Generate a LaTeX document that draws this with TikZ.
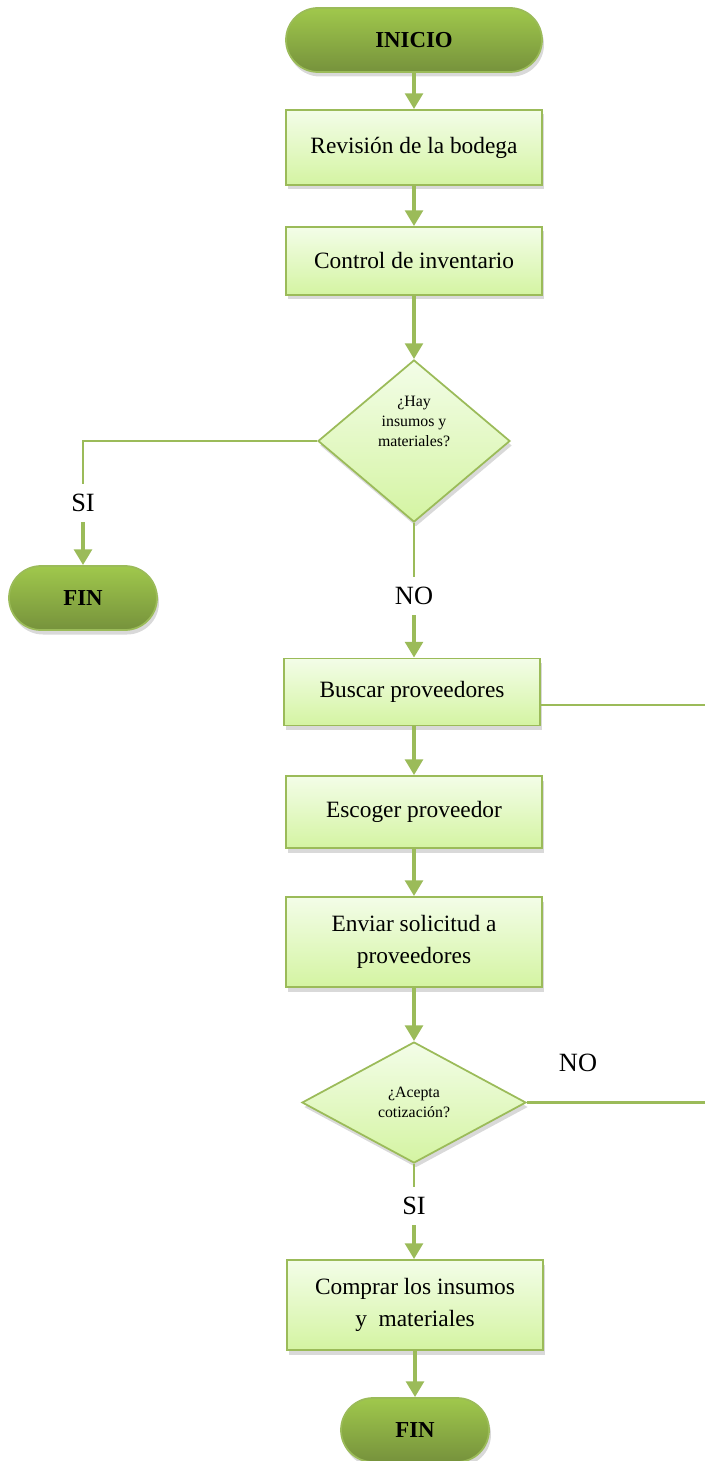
\documentclass[tikz,border=0pt]{standalone}
\usepackage{fontspec}
\setmainfont{Liberation Serif}
\usetikzlibrary{shapes.geometric,arrows.meta,shadows}

\definecolor{verde}{HTML}{9BBB59}
\definecolor{verdeoscuro}{HTML}{76923C}
\definecolor{verdevivo}{HTML}{A0C84C}
\definecolor{verdeclaro}{HTML}{F3FDE8}
\definecolor{verdepalido}{HTML}{D4F4A2}

\begin{document}
\begin{tikzpicture}[
    sombra/.style={drop shadow={opacity=0.3,shadow xshift=0.04cm,shadow yshift=-0.09cm}},
    caja/.style={rectangle,draw=verde,line width=1pt,top color=verdeclaro,bottom color=verdepalido,
        minimum width=5.12cm,align=center,font=\fontsize{13.3}{17.8}\selectfont,sombra},
    terminal/.style={rectangle,rounded corners=0.64cm,draw=verde,line width=1pt,
        top color=verdevivo,bottom color=verdeoscuro,minimum height=1.28cm,
        font=\fontsize{13}{15}\selectfont\bfseries,sombra},
    decision/.style={diamond,draw=verde,line width=1pt,top color=verdeclaro,bottom color=verdepalido,
        inner sep=0pt,align=center,font=\fontsize{9}{11.3}\selectfont,sombra},
    etiqueta/.style={inner sep=2pt,minimum height=0.75cm,font=\fontsize{15}{17}\selectfont},
    flecha/.style={draw=verde,line width=2.2pt,-{Triangle[width=10pt,length=9pt]}},
    linea/.style={draw=verde,line width=1.2pt}
]
\useasboundingbox (0,0) rectangle (14.1,-29.22);

\node[terminal,minimum width=5.12cm] (inicio) at (8.28,-0.80) {INICIO};
\node[caja,minimum height=1.50cm] (revision) at (8.28,-2.95) {Revisión de la bodega};
\node[caja,minimum height=1.36cm] (control) at (8.28,-5.22) {Control de inventario};
\node[decision,minimum width=3.84cm,minimum height=3.24cm,text depth=0.8cm] (hay) at (8.28,-8.82) {¿Hay\\insumos y\\materiales?};
\node[etiqueta] (si1) at (1.66,-10.06) {SI};
\node[terminal,minimum width=2.96cm] (fin1) at (1.66,-11.96) {FIN};
\node[etiqueta] (no1) at (8.28,-11.92) {NO};
\node[caja,minimum height=1.34cm] (buscar) at (8.24,-13.84) {Buscar proveedores};
\node[caja,minimum height=1.44cm] (escoger) at (8.28,-16.24) {Escoger proveedor};
\node[caja,minimum height=1.80cm] (enviar) at (8.28,-18.84) {Enviar solicitud a\\proveedores};
\node[decision,minimum width=4.48cm,minimum height=2.42cm] (acepta) at (8.28,-22.05) {¿Acepta\\cotización?};
\node[etiqueta] (no2) at (11.56,-21.26) {NO};
\node[etiqueta] (si2) at (8.28,-24.12) {SI};
\node[caja,minimum height=1.80cm] (comprar) at (8.30,-26.10) {Comprar los insumos\\y\ \ materiales};
\node[terminal,minimum width=2.96cm] (fin2) at (8.30,-28.60) {FIN};

\coordinate (vuelta1) at (14.1,-14.10);
\coordinate (vuelta2) at (14.1,-22.05);

\draw[flecha] (inicio) -- (revision);
\draw[flecha] (revision) -- (control);
\draw[flecha] (control) -- (hay);
\draw[linea] (hay.west) -| (si1.north);
\draw[flecha] (si1) -- (fin1);
\draw[linea] (hay.south) -- (no1.north);
\draw[flecha] (no1) -- (no1 |- buscar.north);
\draw[linea] (buscar.east |- vuelta1) -- (vuelta1);
\draw[flecha] (buscar.south -| escoger) -- (escoger);
\draw[flecha] (escoger) -- (enviar);
\draw[flecha] (enviar) -- (acepta);
\draw[linea] (acepta.east) -- (vuelta2);
\draw[linea] (acepta.south) -- (si2.north);
\draw[flecha] (si2) -- (si2 |- comprar.north);
\draw[flecha] (comprar.south -| fin2) -- (fin2);
\end{tikzpicture}
\end{document}
